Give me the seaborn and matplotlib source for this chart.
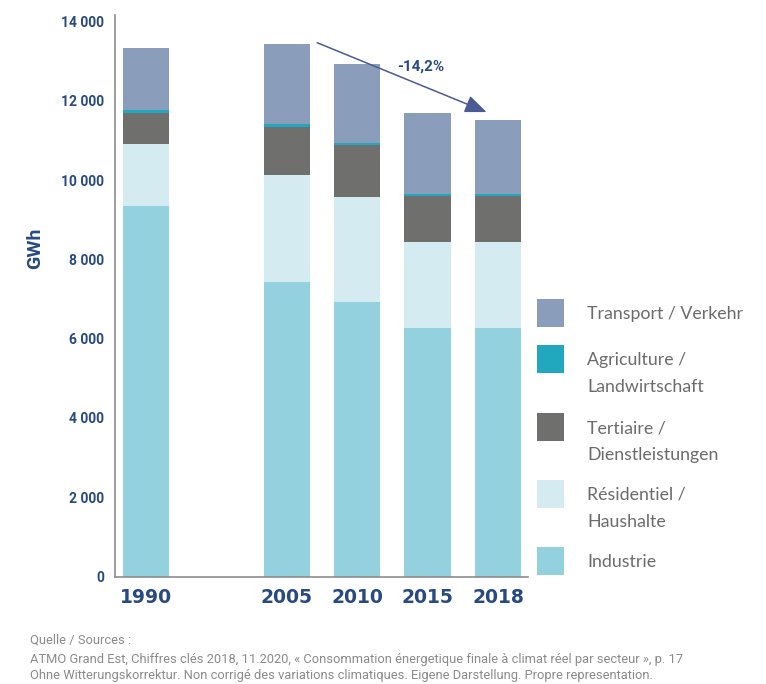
import matplotlib
matplotlib.use("Agg")
import matplotlib.pyplot as plt
import seaborn as sns
import pandas as pd
from matplotlib.patches import Rectangle
from matplotlib.ticker import FuncFormatter, MultipleLocator

# ---- data ----
years = ["1990", "2005", "2010", "2015", "2018"]
industrie = [9355, 7430, 6920, 6270, 6270]
residentiel = [1565, 2700, 2645, 2170, 2170]
tertiaire = [785, 1215, 1315, 1165, 1165]
agriculture = [75, 75, 58, 58, 58]
transport = [1565, 2020, 2000, 2040, 1860]

series_names = ["Industrie", "Résidentiel / Haushalte", "Tertiaire / Dienstleistungen",
                "Agriculture / Landwirtschaft", "Transport / Verkehr"]
legend_lines = [["Transport / Verkehr"],
                ["Agriculture /", "Landwirtschaft"],
                ["Tertiaire /", "Dienstleistungen"],
                ["Résidentiel /", "Haushalte"],
                ["Industrie"]]
colors = ["#92D1DD", "#D4ECF1", "#6F6F6E", "#22A8BE", "#8A9EBB"]
order = ["1990", " ", "2005", "2010", "2015", "2018"]
change_label = "-14,2%"
ylabel = "GWh"
footer = ["Quelle / Sources :",
          "ATMO Grand Est, Chiffres clés 2018, 11.2020, « Consommation énergetique finale à climat réel par secteur », p. 17",
          "Ohne Witterungskorrektur. Non corrigé des variations climatiques. Eigene Darstellung. Propre representation."]

# ---- build long table with cumulative tops ----
values = [industrie, residentiel, tertiaire, agriculture, transport]
rows = []
cum = [0] * len(years)
for name, vals in zip(series_names, values):
    cum = [c + v for c, v in zip(cum, vals)]
    for y, c in zip(years, cum):
        rows.append({"year": y, "series": name, "top": c})
df = pd.DataFrame(rows)

sns.set_theme(style="white")
plt.rcParams["font.family"] = ["Roboto", "DejaVu Sans"]

navy = "#284A80"
W, H = 766, 684
L, R, T, B = 115, 528, 15, 576.5
fig = plt.figure(figsize=(W / 100, H / 100), dpi=100)
ax = fig.add_axes([L / W, 1 - B / H, (R - L) / W, (B - T) / H])

# draw from the tallest (top series) down so each lower segment overlays
for name, col in list(zip(series_names, colors))[::-1]:
    sub = df[df["series"] == name]
    sns.barplot(data=sub, x="year", y="top", order=order, color=col, saturation=1,
                width=0.655, errorbar=None, linewidth=0, ax=ax)

ax.set_xlim(-0.435, 5.425)
ax.set_ylim(0, 14170)
ax.yaxis.set_major_locator(MultipleLocator(2000))
ax.yaxis.set_major_formatter(FuncFormatter(lambda v, p: f"{int(v):,}".replace(",", " ")))
ax.set_xlabel("")
ax.set_ylabel(ylabel, fontsize=14, fontweight="bold", color=navy)
ax.yaxis.label.set_va("center")
ax.yaxis.set_label_coords((35 - L) / (R - L), (B - 248) / (B - T))
ax.tick_params(axis="y", length=0, pad=8, labelsize=10, labelcolor=navy)
ax.tick_params(axis="x", length=0, pad=8, labelsize=13.5, labelcolor=navy)
for lab in ax.get_yticklabels():
    lab.set_fontweight("bold")
for lab in ax.get_xticklabels():
    lab.set_fontweight("bold")
    lab.set_family(["DejaVu Sans"])
for s in ["top", "right"]:
    ax.spines[s].set_visible(False)
for s in ["left", "bottom"]:
    ax.spines[s].set_color("#8C8C8C")
    ax.spines[s].set_linewidth(1.2)
ax.grid(False)

# trend arrow
ax.annotate("", xy=(4.837, 11720), xytext=(2.434, 13470),
            arrowprops=dict(arrowstyle="-|>,head_length=1.1,head_width=0.45",
                            color="#4A5A94", lw=1.1, shrinkA=0, shrinkB=0))
ax.text(3.90, 12880, change_label, ha="center", va="center", fontsize=11,
        fontweight="bold", color=navy)

# legend (manual, in pixel layout)
centers = [313, 359, 427, 494, 561]
leg_colors = colors[::-1]
for cy, col, lines in zip(centers, leg_colors, legend_lines):
    fig.add_artist(Rectangle((537 / W, 1 - (cy + 14) / H), 27 / W, 28 / H,
                             transform=fig.transFigure, color=col, lw=0))
    for i, line in enumerate(lines):
        fig.text(587 / W, 1 - (cy + 6 + 27 * i) / H, line, ha="left", va="baseline",
                 fontsize=12.8, color="#6B6B6B", family=["Lato", "DejaVu Sans"])

# footer
for yb, line in zip([644, 663, 679], footer):
    fig.text(30 / W, 1 - yb / H, line, ha="left", va="baseline",
             fontsize=9.25, color="#8A8A8A", family=["Roboto", "DejaVu Sans"])

fig.savefig("out.png", dpi=100)
